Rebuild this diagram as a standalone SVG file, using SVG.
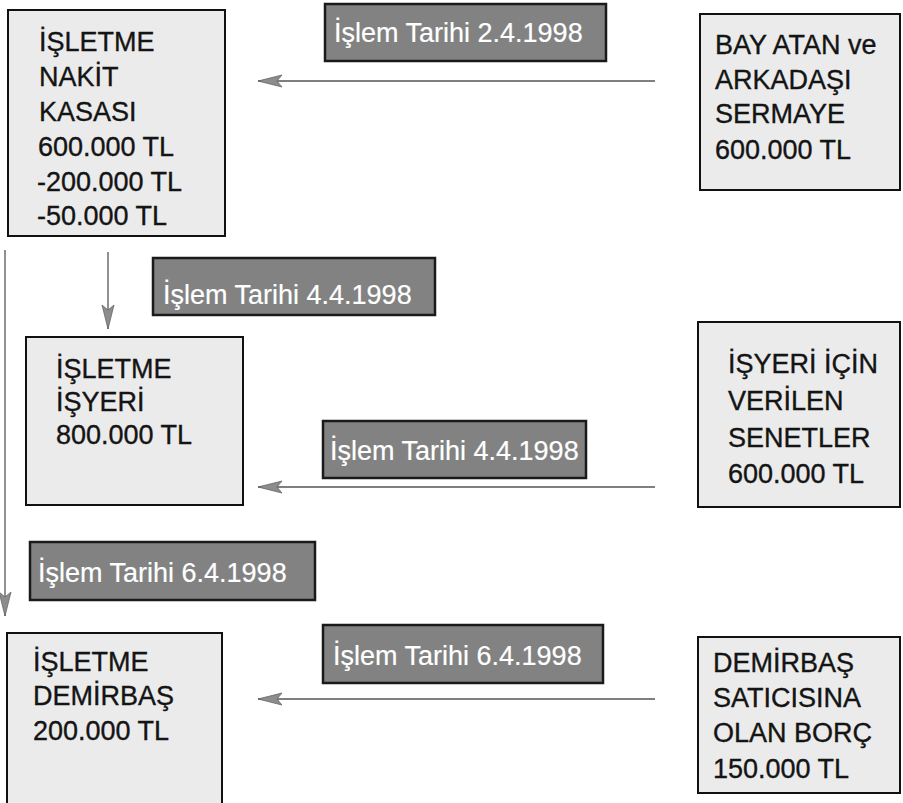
<svg xmlns="http://www.w3.org/2000/svg" width="903" height="803" viewBox="0 0 903 803">
<defs>
<style>
.box{fill:#ebebeb;stroke:#111;stroke-width:2}
.lab{fill:#828282;stroke:#1a1a1a;stroke-width:2.5}
.t{font-family:"Liberation Sans",Arial,sans-serif;font-size:27px;fill:#141414;stroke:#141414;stroke-width:0.35}
.lt{font-family:"Liberation Sans",Arial,sans-serif;font-size:27px;fill:#ffffff;stroke:#ffffff;stroke-width:0.2}
.c{stroke:#555;stroke-width:1.3;fill:none}
</style>
<marker id="ah" markerWidth="26" markerHeight="14" refX="24" refY="7" orient="auto" markerUnits="userSpaceOnUse">
<path d="M0,1 L24,7 L0,13 L5,7 Z" fill="#8c8c8c" stroke="#666" stroke-width="0.8"/>
</marker>
</defs>
<rect width="903" height="803" fill="#fff"/>
<g id="connectors">
<line class="c" x1="655" y1="81" x2="258" y2="81" marker-end="url(#ah)"/>
<line class="c" x1="108" y1="252" x2="108" y2="329" marker-end="url(#ah)"/>
<line class="c" x1="5" y1="250" x2="5" y2="616" marker-end="url(#ah)"/>
<line class="c" x1="655" y1="487" x2="258" y2="487" marker-end="url(#ah)"/>
<line class="c" x1="655" y1="699" x2="258" y2="699" marker-end="url(#ah)"/>
</g>
<g id="lbl1"><rect class="lab" x="325" y="4" width="281" height="57"/><text class="lt" x="334" y="42">İşlem Tarihi 2.4.1998</text></g>
<g id="lbl2"><rect class="lab" x="153" y="258" width="282" height="57"/><text class="lt" x="163" y="304">İşlem Tarihi 4.4.1998</text></g>
<g id="lbl3"><rect class="lab" x="323" y="421" width="263" height="57"/><text class="lt" x="330" y="460">İşlem Tarihi 4.4.1998</text></g>
<g id="lbl4"><rect class="lab" x="30" y="542" width="285" height="58"/><text class="lt" x="38" y="582">İşlem Tarihi 6.4.1998</text></g>
<g id="lbl5"><rect class="lab" x="323" y="625" width="280" height="58"/><text class="lt" x="333" y="665">İşlem Tarihi 6.4.1998</text></g>
<g id="kasa"><rect class="box" x="8" y="10" width="217" height="226"/>
<text class="t"><tspan x="39" y="51">İŞLETME</tspan><tspan x="39" y="86">NAKİT</tspan><tspan x="39" y="121">KASASI</tspan><tspan x="38" y="156">600.000 TL</tspan><tspan x="37" y="191">-200.000 TL</tspan><tspan x="37" y="225">-50.000 TL</tspan></text></g>
<g id="sermaye"><rect class="box" x="700" y="14" width="200" height="176"/>
<text class="t"><tspan x="715" y="54">BAY ATAN ve</tspan><tspan x="715" y="89">ARKADAŞI</tspan><tspan x="715" y="123">SERMAYE</tspan><tspan x="715" y="159">600.000 TL</tspan></text></g>
<g id="isyeri"><rect class="box" x="26" y="337" width="217" height="168"/>
<text class="t"><tspan x="56" y="378">İŞLETME</tspan><tspan x="56" y="411">İŞYERİ</tspan><tspan x="56" y="444">800.000 TL</tspan></text></g>
<g id="senet"><rect class="box" x="698" y="322" width="202" height="185"/>
<text class="t"><tspan x="728" y="373">İŞYERİ İÇİN</tspan><tspan x="728" y="410">VERİLEN</tspan><tspan x="728" y="447">SENETLER</tspan><tspan x="728" y="483">600.000 TL</tspan></text></g>
<g id="demirbas"><rect class="box" x="7" y="633" width="215" height="172"/>
<text class="t"><tspan x="33" y="671">İŞLETME</tspan><tspan x="33" y="705">DEMİRBAŞ</tspan><tspan x="33" y="740">200.000 TL</tspan></text></g>
<g id="borc"><rect class="box" x="698" y="637" width="202" height="156"/>
<text class="t"><tspan x="713" y="672">DEMİRBAŞ</tspan><tspan x="713" y="707">SATICISINA</tspan><tspan x="713" y="742">OLAN BORÇ</tspan><tspan x="713" y="778">150.000 TL</tspan></text></g>
</svg>
